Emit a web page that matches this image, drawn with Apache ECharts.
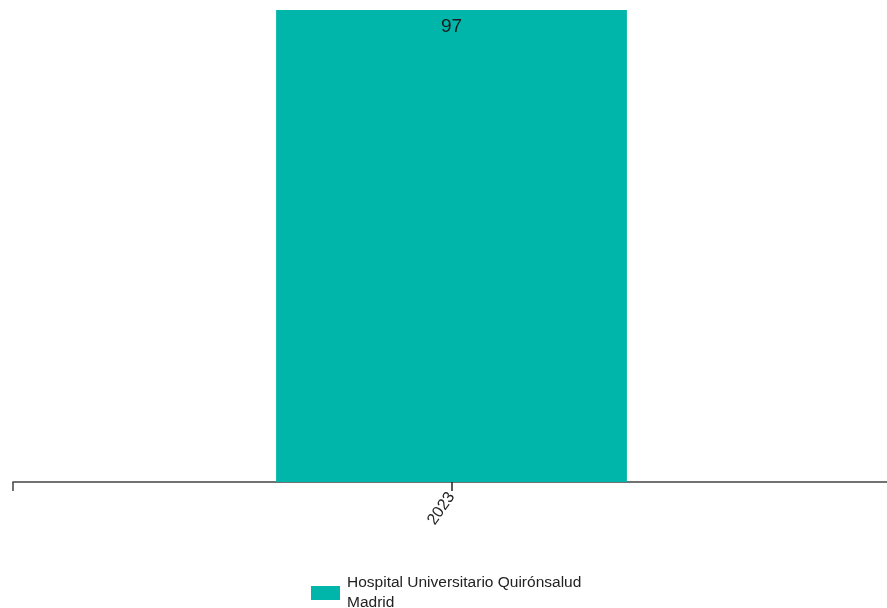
<!DOCTYPE html>
<html><head><meta charset="utf-8">
<script src="https://cdn.jsdelivr.net/npm/echarts@6/dist/echarts.min.js"></script>
<style>html,body{margin:0;padding:0;background:#fff}#c{width:887px;height:608px}</style>
</head><body><div id="c"></div>
<script>
const categories = ['2023'];
const seriesName = 'Hospital Universitario Quirónsalud\nMadrid';
const values = [97];
const FONT = "'Liberation Sans Narrow','Arial Narrow',Arial,sans-serif";
const chart = echarts.init(document.getElementById('c'), null, {renderer: 'canvas'});
chart.setOption({
  animation: false,
  textStyle: {fontFamily: FONT},
  grid: {left: 13, width: 877, top: 10, bottom: 126, containLabel: false, outerBoundsMode: 'none'},
  legend: {
    bottom: -5, left: 311, padding: 0, itemWidth: 29, itemHeight: 14, icon: 'rect',
    textStyle: {fontFamily: FONT, fontSize: 15.5, color: '#222', lineHeight: 20, padding: [0, 0, 0, 2]},
    data: [seriesName]
  },
  xAxis: [{
    type: 'category', data: categories, boundaryGap: true,
    axisLine: {show: true, lineStyle: {color: '#444', width: 1.5}},
    axisTick: {show: true, length: 9, lineStyle: {color: '#444', width: 1.5}},
    axisLabel: {show: false}
  }, {
    type: 'category', data: categories, position: 'bottom', boundaryGap: true,
    axisLine: {show: false},
    axisTick: {show: true, alignWithLabel: true, length: 9, lineStyle: {color: '#222', width: 1.5}},
    axisLabel: {show: true, rotate: 55, margin: 12, fontFamily: FONT, fontSize: 16, color: '#222', padding: [0, 0, 0, 0]}
  }],
  yAxis: {type: 'value', min: 0, max: Math.max(...values), show: false, splitLine: {show: false}},
  series: [{
    name: seriesName, type: 'bar', data: values, barWidth: '40%',
    itemStyle: {color: '#00b6aa'},
    label: {show: true, position: 'insideTop', distance: 7, fontFamily: FONT, fontSize: 19, color: '#1a1a1a'}
  }]
});
</script></body></html>
